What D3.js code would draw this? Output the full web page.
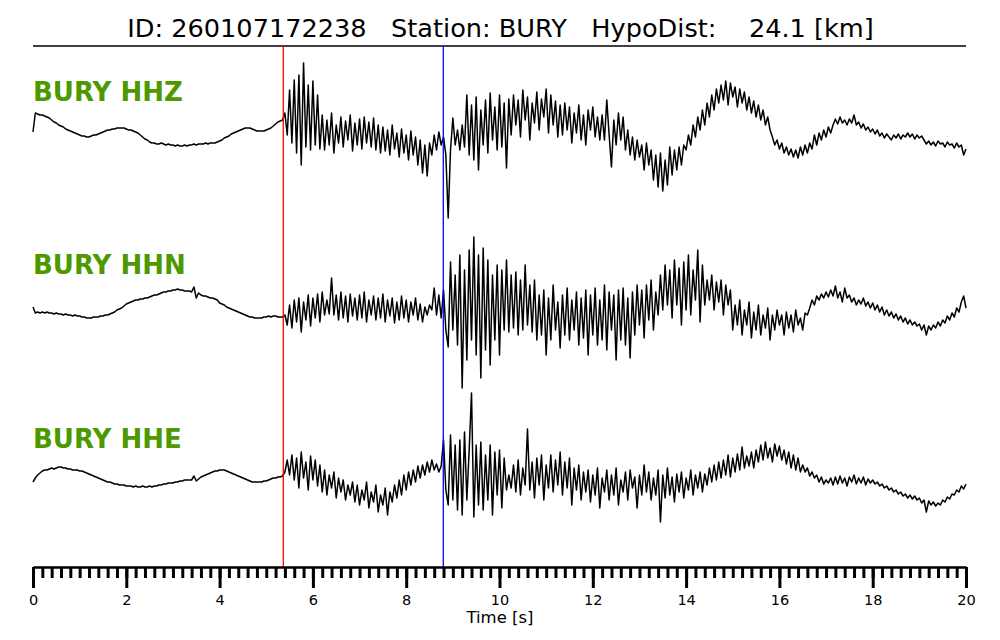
<!DOCTYPE html>
<html>
<head>
<meta charset="utf-8">
<script src="https://cdn.jsdelivr.net/npm/d3@7"></script>
<style>
  body { margin: 0; background: #fff; }
  svg text { font-family: "DejaVu Sans", sans-serif; }
</style>
</head>
<body>
<svg id="chart" width="1000" height="640"></svg>
<script>
// event info
var eventId = "260107172238";
var station = "BURY";
var hypoDist = 24.1;
var channels = ["HHZ", "HHN", "HHE"];

// picks [s]
var pPick = 5.365;
var sPick = 8.795;

// sample step [s], traces start at t = 0
var dt = 0.05;

// amplitudes (arbitrary units, one row = 1 s)
var hhz = [
  -7, 12, 11, 10, 10, 9, 8, 7, 5, 3, 2, 0, -1, -2, -4, -5, -6, -7, -8, -9,
  -10, -11, -11, -12, -12, -11, -10, -10, -9, -8, -7, -6, -5, -5, -4, -4, -3, -3, -3, -3,
  -4, -5, -5, -6, -7, -8, -10, -12, -14, -15, -17, -18, -18, -19, -19, -18, -19, -20, -19, -20,
  -20, -21, -20, -21, -21, -20, -21, -20, -20, -19, -20, -19, -19, -19, -18, -19, -18, -18, -18, -17,
  -16, -15, -13, -12, -11, -9, -8, -7, -6, -5, -4, -3, -3, -3, -4, -5, -6, -6, -6, -6,
  -5, -4, -3, -1, 1, 3, 4, 5, 12, -10, 35, -18, 45, -28, 50, -40, 62, -22, 40, -25,
  44, -20, 30, -24, 10, -25, 5, -20, 12, -28, 0, -18, 8, -22, 4, -15, 10, -26, 2, -20,
  6, -24, 8, -18, 3, -22, 7, -25, 0, -28, -2, -26, -5, -30, 0, -24, -8, -32, -4, -28,
  -10, -35, -6, -30, -12, -40, -15, -48, -20, -51, -18, -30, -10, -25, -7, -20, -12, -30, -93, -25,
  7, -20, -5, -25, 0, -22, 30, -30, 20, -35, 28, -45, 15, -20, 25, -28, 32, -15, 18, -25,
  30, -22, 22, -43, 26, -10, 30, 0, 25, -12, 35, 5, 28, -15, 22, 2, 33, -5, 26, 8,
  36, -8, 30, 0, 24, -12, 20, -10, 22, -5, 18, -18, 12, -8, 20, -15, 10, -20, 15, -5,
  18, -12, 8, -15, 10, -15, 25, -10, -42, 5, -20, 12, -15, 8, -25, -5, -30, -12, -35, -15,
  -32, -20, -45, -18, -40, -25, -55, -30, -62, -28, -66, -35, -60, -22, -50, -25, -45, -22, -40, -20,
  -25, -10, -20, 0, -12, 8, -5, 15, 0, 22, 8, 30, 15, 36, 22, 40, 25, 44, 20, 42,
  28, 38, 18, 36, 22, 33, 15, 28, 12, 24, 8, 20, 5, 15, 0, 8, -5, -12, -20, -15,
  -24, -18, -28, -22, -30, -24, -32, -25, -33, -22, -30, -20, -28, -18, -24, -10, -20, -8, -15, -5,
  -12, -2, -8, 0, 6, 1, 8, 2, 5, 0, 6, 2, 10, 0, 3, -3, 1, -5, -2, -7,
  -4, -9, -5, -11, -8, -13, -9, -12, -15, -10, -13, -9, -14, -10, -12, -8, -12, -9, -14, -10,
  -13, -11, -15, -19, -16, -20, -17, -21, -16, -19, -18, -22, -17, -20, -19, -23, -18, -22, -20, -30,
  -24
];

var hhn = [
  3, -3, -2, -3, -2, -3, -2, -3, -3, -4, -3, -4, -4, -5, -4, -5, -5, -6, -5, -6,
  -6, -7, -7, -8, -8, -8, -7, -7, -7, -6, -6, -5, -5, -4, -3, -2, 0, 1, 2, 4,
  6, 7, 8, 9, 10, 10, 11, 11, 12, 12, 13, 14, 15, 15, 16, 17, 18, 18, 19, 19,
  20, 20, 21, 20, 20, 19, 19, 19, 18, 23, 12, 17, 15, 14, 14, 13, 12, 12, 11, 10,
  7, 6, 5, 3, 2, 1, 0, -1, -2, -3, -4, -5, -6, -7, -7, -8, -8, -8, -8, -7,
  -7, -6, -7, -6, -6, -7, -7, -7, -5, -15, 5, -18, 10, -12, 12, -22, 8, -10, 15, -16,
  12, -8, 16, -12, 18, -5, 10, -4, 32, -5, 15, -10, 18, -8, 14, -12, 16, -6, 12, -10,
  15, -8, 18, -12, 10, -5, 14, -10, 12, -8, 16, -12, 10, -6, 12, -13, 8, -10, 14, -8,
  10, -12, 8, -5, 12, -10, 6, -12, 3, -5, 5, 0, 22, -5, 15, -8, 20, -20, -37, 48,
  -20, 35, -35, 55, -78, 40, -50, 60, -30, 73, -45, 55, -68, 62, -40, 50, -55, 35, -30, 45,
  -45, 40, -20, 50, -22, 35, -18, 38, -25, 30, -20, 45, -15, 25, -22, 30, -30, 15, -25, 20,
  -45, 12, -30, 25, -20, 8, -38, 15, -25, 22, -30, 10, -20, 18, -35, 12, -28, 20, -45, 15,
  -25, 22, -35, 10, -30, 25, -40, 18, -20, 15, -50, 20, -30, 22, -35, 12, -48, 18, -25, 25,
  -15, 20, -28, 25, -10, 30, -20, 18, -5, 35, 0, 45, 5, 40, -8, 50, 5, 42, -15, 48,
  0, 55, -5, 40, 10, 60, -12, 45, 5, 30, 10, 35, 0, 28, 8, 30, -5, 25, 5, 20,
  -20, 5, -15, 10, -25, 0, -15, 8, -28, -2, -20, 5, -25, -5, -18, 2, -30, -5, -20, 0,
  -15, -5, -25, -2, -18, -5, -22, 0, -15, -8, -20, -3, -5, 2, 10, 5, 14, 10, 16, 12,
  18, 13, 20, 14, 24, 12, 18, 8, 22, 12, 15, 8, 12, 5, 10, 6, 12, 4, 8, 2,
  7, 0, 5, -2, 3, -5, 0, -6, -2, -8, -4, -10, -6, -12, -8, -14, -10, -15, -12, -16,
  -14, -20, -15, -25, -16, -20, -15, -18, -12, -16, -10, -13, -6, -10, -3, -7, 2, -2, 8, 14,
  2
];

var hhe = [
  -2, 2, 5, 7, 9, 10, 10, 11, 12, 11, 12, 13, 13, 12, 12, 11, 11, 10, 10, 10,
  9, 9, 8, 7, 6, 5, 4, 3, 2, 1, 0, -1, -2, -2, -3, -4, -4, -5, -5, -5,
  -6, -6, -6, -7, -6, -7, -7, -6, -7, -7, -6, -7, -6, -6, -5, -5, -4, -4, -3, -3,
  -3, -2, -2, -1, -1, 0, 0, 0, 0, 4, -1, 1, 3, 4, 5, 6, 7, 8, 9, 9,
  10, 10, 10, 9, 8, 7, 6, 5, 4, 3, 2, 1, 0, -1, -2, -2, -2, -2, -2, -1,
  -1, 0, 1, 2, 2, 3, 3, 4, 8, 20, 5, 25, 0, 22, -8, 28, 2, 18, -10, 24,
  0, 20, -6, 15, -12, 10, -15, 5, -8, 8, -18, 2, -12, 0, -20, -5, -15, -2, -22, -5,
  -25, -10, -20, -2, -28, -12, -22, -5, -32, -15, -25, -8, -35, -12, -22, -5, -18, 0, -15, 5,
  -10, 8, -5, 10, -2, 14, 2, 15, 5, 18, 8, 20, 10, 16, 8, 14, 40, -10, -25, 45,
  -20, 35, -30, 40, -35, 48, -20, 30, 87, -37, 35, -25, 38, -30, 25, -20, 35, -35, 28, -15,
  30, -28, 22, -10, 5, -8, 15, -12, 20, -15, 12, -5, 51, -10, 18, -18, 22, -5, 25, -20,
  15, -8, 25, -12, 20, -5, 28, -15, 18, -8, 22, -25, 12, -10, 15, -20, 8, -12, 10, -22,
  5, -15, 12, -28, 2, -12, 10, -20, 5, -15, 12, -25, 0, -12, 8, -20, 10, -8, 3, -28,
  5, -15, 15, -12, 8, -20, 2, -15, 10, -42, 5, -18, 12, -15, 3, -22, 6, -12, 8, -18,
  2, -10, 10, -15, 5, -8, 8, -12, 6, -5, 12, -2, 15, 0, 18, 2, 20, 5, 25, 3,
  22, 8, 26, 10, 33, 12, 24, 14, 28, 12, 30, 18, 35, 20, 38, 22, 32, 18, 36, 24,
  34, 20, 30, 16, 28, 12, 25, 10, 22, 8, 15, 8, 12, 4, 8, 2, 5, -2, 3, -4,
  0, -3, 2, -5, 3, -4, 4, -3, 2, -6, 3, -2, 5, -4, 2, -3, 3, -5, 1, -3,
  0, -4, -2, -6, -4, -8, -6, -10, -8, -12, -10, -14, -12, -16, -14, -18, -15, -19, -16, -20,
  -18, -23, -20, -32, -21, -25, -22, -26, -23, -25, -20, -22, -17, -19, -14, -15, -10, -12, -6, -9,
  -4
];

var majorTicks = d3.range(0, 20.001, 2);
var minorTicks = d3.range(0, 100.5, 1).map(function(i) { return i * 0.2; });

var traces = [hhz, hhn, hhe];

var svg = d3.select("#chart");
var left = 33, right = 966;
var axisY = 567, topLineY = 46;
var centers = [125, 310, 480];
var labelY = [100.5, 274, 447.5];

var x = d3.scaleLinear().domain([0, 20]).range([left, right]);
// amplitude scale, shared by all three channels
var amp = d3.scaleLinear().domain([-100, 100]).range([100, -100]);

// title
svg.append("text")
    .attr("x", 500.5)
    .attr("y", 37)
    .attr("text-anchor", "middle")
    .style("font-size", "25.6px")
    .style("white-space", "pre")
    .attr("xml:space", "preserve")
    .text("ID: " + eventId + "   Station: " + station + "   HypoDist:    " + hypoDist.toFixed(1) + " [km]");

svg.append("line")
    .attr("x1", left).attr("x2", right)
    .attr("y1", topLineY).attr("y2", topLineY)
    .attr("stroke", "#000")
    .attr("stroke-width", 1.4);

// waveforms
var line = d3.line()
    .x(function(d, i) { return x(i * dt); })
    .y(function(d) { return amp(d); });

traces.forEach(function(tr, k) {
  var g = svg.append("g").attr("transform", "translate(0," + centers[k] + ")");
  g.append("path")
      .datum(tr)
      .attr("d", line)
      .attr("fill", "none")
      .attr("stroke", "#000")
      .attr("stroke-width", 1.5)
      .attr("stroke-linejoin", "round");

  svg.append("text")
      .attr("x", left)
      .attr("y", labelY[k])
      .style("font-size", "26px")
      .style("font-weight", "bold")
      .attr("fill", "#4c9900")
      .text(station + " " + channels[k]);
});

// P and S picks
svg.append("line")
    .attr("x1", x(pPick)).attr("x2", x(pPick))
    .attr("y1", topLineY).attr("y2", axisY)
    .attr("stroke", "#ff0000")
    .attr("stroke-width", 1.3);

svg.append("line")
    .attr("x1", x(sPick)).attr("x2", x(sPick))
    .attr("y1", topLineY).attr("y2", axisY)
    .attr("stroke", "#0000ff")
    .attr("stroke-width", 1.3);

// time axis: minor ticks, then major ticks with labels
var gMinor = svg.append("g")
    .attr("transform", "translate(0," + axisY + ")")
    .call(d3.axisBottom(x).tickValues(minorTicks).tickSize(11).tickSizeOuter(0).tickFormat(""));

var gMajor = svg.append("g")
    .attr("transform", "translate(0," + axisY + ")")
    .call(d3.axisBottom(x).tickValues(majorTicks).tickSize(21).tickSizeOuter(0).tickPadding(7)
      .tickFormat(d3.format("d")));

gMinor.selectAll(".tick line").attr("stroke-width", 3);
gMajor.selectAll(".tick line").attr("stroke-width", 3);
gMinor.select(".domain").attr("stroke-width", 2.2);
gMajor.select(".domain").attr("stroke-width", 2.2);
gMajor.selectAll(".tick text")
    .style("font-size", "14.5px")
    .style("font-family", "DejaVu Sans, sans-serif")
    .attr("fill", "#000");

svg.append("text")
    .attr("x", 500)
    .attr("y", 623)
    .attr("text-anchor", "middle")
    .style("font-size", "16.5px")
    .text("Time [s]");
</script>
</body>
</html>
